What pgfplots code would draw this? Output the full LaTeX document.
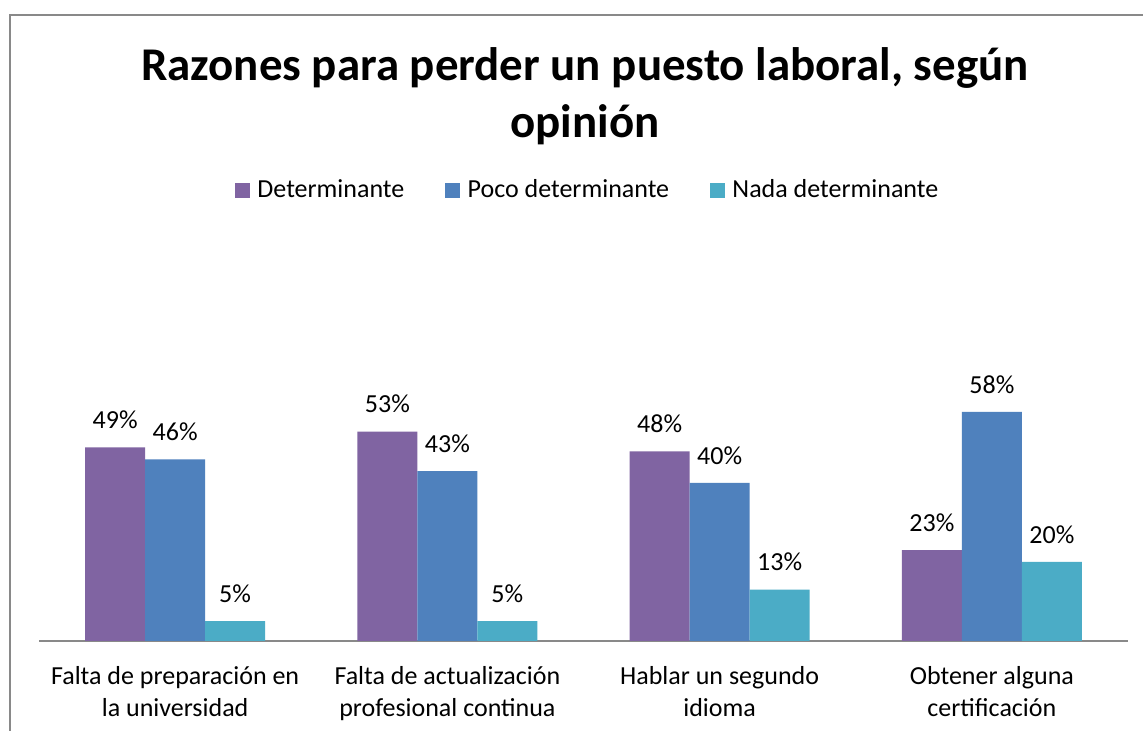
\documentclass[border=0pt]{standalone}
\usepackage{pgfplots}
\pgfplotsset{compat=1.18}
\usepackage{fontspec}
\setmainfont{Carlito}
\definecolor{cDet}{HTML}{8064A2}
\definecolor{cPoco}{HTML}{4F81BD}
\definecolor{cNada}{HTML}{4BACC6}
\definecolor{cBord}{HTML}{898989}
\begin{document}
\begin{tikzpicture}[x=1pt,y=1pt]
\useasboundingbox (0,0) rectangle (857.25,548.25);
\fill[white] (0,0) rectangle (857.25,548.25);
\draw[cBord, line width=0.9pt] (7.5,0) -- (7.5,537) -- (857.25,537);
\node[anchor=base, font=\fontsize{35.2}{42}\bfseries] at (438.75,487.5) {Razones para perder un puesto laboral, según};
\node[anchor=base, font=\fontsize{35.2}{42}\bfseries] at (438.75,444.75) {opinión};
\begin{axis}[
  at={(29.25pt,67.5pt)}, anchor=south west,
  scale only axis, width=816.75pt, height=296.25pt,
  xmin=-0.5, xmax=3.5, ymin=0, ymax=100,
  axis y line=none, axis x line=bottom,
  x axis line style={-, draw=cBord, line width=1.2pt},
  ybar, bar width=45pt,
  xtick={0,1,2,3},
  xticklabels={Falta de preparación en\\la universidad, Falta de actualización\\profesional continua, Hablar un segundo\\idioma, Obtener alguna\\certificación},
  xticklabel style={font=\fontsize{19.5}{24}\selectfont, align=center, yshift=-15.5pt},
  major tick length=0pt,
  clip=false,
  /pgf/number format/assume math mode=true,
  nodes near coords={\pgfmathprintnumber{\pgfplotspointmeta}\%},
  every node near coord/.append style={font=\fontsize{19.5}{24}\selectfont, anchor=base, inner sep=0pt, yshift=14pt, text=black},
  legend columns=3,
  legend style={at={(0.504,1.142)}, anchor=center, draw=none, fill=none, font=\fontsize{19.5}{24}\selectfont,
    /tikz/every even column/.append style={column sep=28.5pt},
    /tikz/every odd column/.append style={column sep=3.75pt}},
  legend image code/.code={\fill[#1] (0pt,-6pt) rectangle (11.25pt,5.25pt);},
]
\addplot[fill=cDet, draw=none, bar shift=-45pt] coordinates {(0,49) (1,53) (2,48) (3,23)};
\addplot[fill=cPoco, draw=none, bar shift=0pt] coordinates {(0,46) (1,43) (2,40) (3,58)};
\addplot[fill=cNada, draw=none, bar shift=45pt] coordinates {(0,5) (1,5) (2,13) (3,20)};
\legend{Determinante, Poco determinante, Nada determinante}
\end{axis}
\end{tikzpicture}
\end{document}
